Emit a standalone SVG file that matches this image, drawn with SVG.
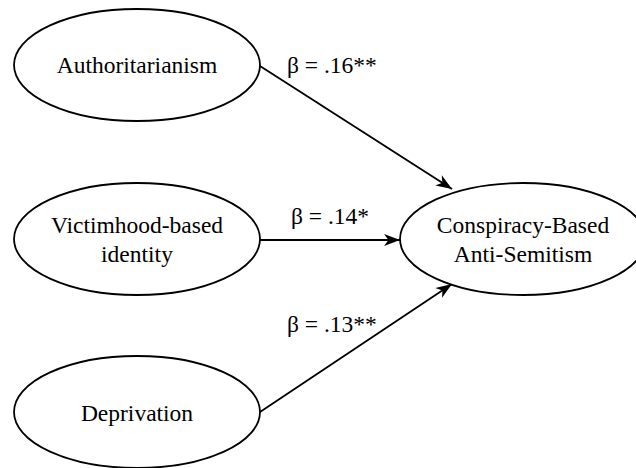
<svg xmlns="http://www.w3.org/2000/svg" width="636" height="468" viewBox="0 0 636 468">
<style>
.node ellipse { fill: #ffffff; stroke: #000000; stroke-width: 1.8; }
.node text, .lbl { font-family: "Liberation Serif", "Times New Roman", serif; font-size: 23.5px; fill: #000000; }
.node text { text-anchor: middle; }
.edge { stroke: #000000; stroke-width: 1.8; fill: none; marker-end: url(#arr); }
</style>
<defs>
<marker id="arr" markerUnits="userSpaceOnUse" markerWidth="18" markerHeight="14" viewBox="0 0 18 14" refX="17" refY="7" orient="auto">
<path d="M1,1 L17,7 L1,13 L5.5,7 Z" fill="#000000"/>
</marker>
</defs>
<g id="connectors">
<line class="edge" x1="260" y1="66" x2="452" y2="189"/>
<line class="edge" x1="260" y1="240" x2="400" y2="240"/>
<line class="edge" x1="260" y1="412" x2="452" y2="284"/>
<text class="lbl" x="287" y="73">β = .16**</text>
<text class="lbl" x="291" y="224">β = .14*</text>
<text class="lbl" x="287" y="332">β = .13**</text>
</g>
<g id="authoritarianism" class="node">
<ellipse cx="137" cy="65" rx="123" ry="56"/>
<text x="137" y="73">Authoritarianism</text>
</g>
<g id="victimhood" class="node">
<ellipse cx="137" cy="239" rx="123" ry="56"/>
<text x="137" y="233">Victimhood-based</text>
<text x="137" y="262">identity</text>
</g>
<g id="deprivation" class="node">
<ellipse cx="137" cy="412" rx="123" ry="56"/>
<text x="137" y="421">Deprivation</text>
</g>
<g id="conspiracy" class="node">
<ellipse cx="523" cy="239" rx="123" ry="56"/>
<text x="523" y="233">Conspiracy-Based</text>
<text x="523" y="262">Anti-Semitism</text>
</g>
</svg>
